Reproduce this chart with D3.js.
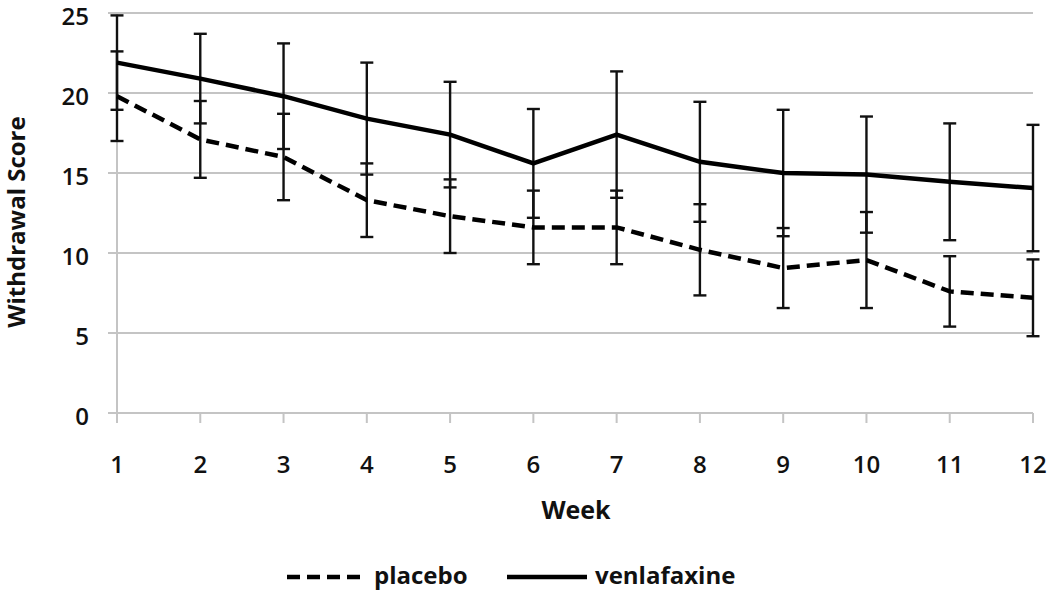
<!DOCTYPE html>
<html><head><meta charset="utf-8">
<script src="https://cdn.jsdelivr.net/npm/d3@7"></script>
<style>body{margin:0;background:#fff}</style>
</head><body>
<svg id="c" width="1050" height="594"></svg>
<script>
const weeks = [1,2,3,4,5,6,7,8,9,10,11,12];
const placeboMean = [19.8,17.1,16.0,13.3,12.3,11.6,11.6,10.2,9.06,9.56,7.6,7.2];
const placeboErr  = [2.8,2.4,2.7,2.3,2.3,2.3,2.3,2.85,2.5,3.0,2.2,2.4];
const venlaMean   = [21.9,20.9,19.8,18.4,17.4,15.6,17.4,15.7,15.0,14.9,14.45,14.06];
const venlaErr    = [2.95,2.8,3.3,3.5,3.3,3.4,3.95,3.75,3.95,3.63,3.65,3.95];
const yTicks = [0,5,10,15,20,25];
const seriesNames = ["placebo","venlafaxine"];

const font = "'Open Sans', Lato, sans-serif";
const svg = d3.select("#c");
const x = d3.scaleLinear().domain([1,12]).range([117,1033]);
const y = d3.scaleLinear().domain([0,25]).range([413,13]);

// grid
svg.append("g").selectAll("line").data(yTicks).join("line")
  .attr("x1",108).attr("x2",1033).attr("y1",d=>y(d)).attr("y2",d=>y(d))
  .attr("stroke","#c4c4c4").attr("stroke-width",2);
// y axis line
svg.append("line").attr("x1",x(1)).attr("x2",x(1)).attr("y1",y(25)).attr("y2",423)
  .attr("stroke","#c4c4c4").attr("stroke-width",2);
// x ticks
svg.append("g").selectAll("line").data(weeks).join("line")
  .attr("x1",d=>x(d)).attr("x2",d=>x(d)).attr("y1",y(0)).attr("y2",423)
  .attr("stroke","#c4c4c4").attr("stroke-width",2);

// tick labels
svg.append("g").selectAll("text").data(yTicks).join("text")
  .attr("x",89).attr("y",d=>y(d)+3).attr("dy","0.36em").attr("text-anchor","end")
  .attr("font-family",font).attr("font-weight",600).attr("font-size",24).attr("fill","#111")
  .text(d=>d);
svg.append("g").selectAll("text").data(weeks).join("text")
  .attr("x",d=>x(d)).attr("y",464).attr("dy","0.36em").attr("text-anchor","middle")
  .attr("font-family",font).attr("font-weight",600).attr("font-size",24).attr("fill","#111")
  .text(d=>d);

svg.append("text").attr("x",576).attr("y",510).attr("dy","0.36em").attr("text-anchor","middle")
  .attr("font-family",font).attr("font-weight",700).attr("font-size",25).attr("fill","#111").text("Week");
svg.append("text").attr("transform","translate(16,222) rotate(-90)").attr("dy","0.36em").attr("text-anchor","middle")
  .attr("font-family",font).attr("font-weight",700).attr("font-size",24).attr("fill","#111").text("Withdrawal Score");

const line = d3.line().x((d,i)=>x(weeks[i])).y(d=>y(d));
const series = [
  {name:seriesNames[0], mean:placeboMean, err:placeboErr, dash:"13,7"},
  {name:seriesNames[1], mean:venlaMean, err:venlaErr, dash:null}
];
series.forEach(s=>{
  const g = svg.append("g");
  s.mean.forEach((m,i)=>{
    const xx = x(weeks[i]);
    g.append("line").attr("x1",xx).attr("x2",xx).attr("y1",y(m+s.err[i])).attr("y2",y(m-s.err[i]))
      .attr("stroke","#111").attr("stroke-width",2.4);
    [m+s.err[i], m-s.err[i]].forEach(v=>{
      g.append("line").attr("x1",xx-6.5).attr("x2",xx+6.5).attr("y1",y(v)).attr("y2",y(v))
        .attr("stroke","#111").attr("stroke-width",2.4);
    });
  });
});
series.forEach(s=>{
  svg.append("path").datum(s.mean).attr("d",line).attr("fill","none")
    .attr("stroke","#000").attr("stroke-width",4.5)
    .attr("stroke-dasharray",s.dash);
});

// legend
const leg = [{x1:287,x2:365,tx:374},{x1:507,x2:587,tx:595}];
series.forEach((s,i)=>{
  svg.append("line").attr("x1",leg[i].x1).attr("x2",leg[i].x2).attr("y1",577).attr("y2",577)
    .attr("stroke","#000").attr("stroke-width",4.5).attr("stroke-dasharray",s.dash);
  svg.append("text").attr("x",leg[i].tx).attr("y",576).attr("dy","0.32em")
    .attr("font-family",font).attr("font-weight",700).attr("font-size",24).attr("fill","#111").text(s.name);
});
</script>
</body></html>
